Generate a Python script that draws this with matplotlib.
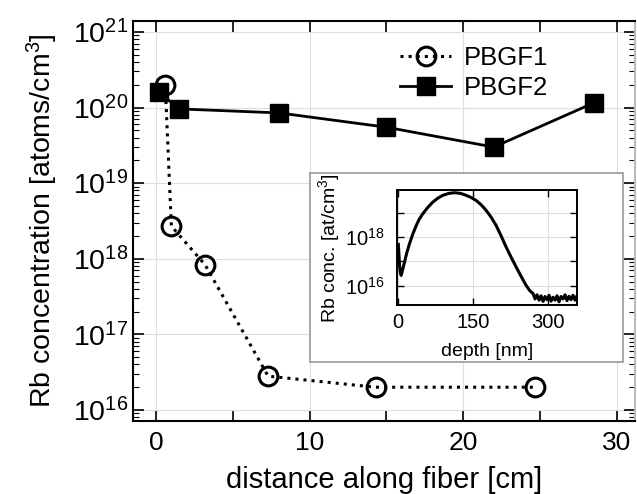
import math
import matplotlib
matplotlib.use("Agg")
import matplotlib.pyplot as plt
from matplotlib.patches import Rectangle
from matplotlib.ticker import LogLocator, NullFormatter, MultipleLocator, FuncFormatter

plt.rcParams['font.family'] = ['Liberation Sans', 'DejaVu Sans']
plt.rcParams['mathtext.fontset'] = 'custom'
plt.rcParams['mathtext.rm'] = 'Liberation Sans'
plt.rcParams['mathtext.it'] = 'Liberation Sans'

# main data: Rb concentration vs distance along fiber
pbgf1_x = [0.6, 1.0, 3.2, 7.3, 14.3, 24.7]
pbgf1_y = [2.0e20, 2.7e18, 8.3e17, 2.8e16, 2.0e16, 2.0e16]
pbgf2_x = [0.2, 1.5, 8.0, 15.0, 22.0, 28.5]
pbgf2_y = [1.6e20, 9.6e19, 8.5e19, 5.5e19, 3.0e19, 1.15e20]

# inset: depth profile (log10 of concentration)
depth = [0, 1, 2.5, 4, 5.8, 8, 12.5, 17, 22.5, 29, 36, 42, 49, 59, 69, 79, 89, 101,
         113, 125, 136, 146, 156, 166, 176, 186, 196, 206, 216, 226, 236, 246, 256,
         263, 270, 274, 278, 282, 286, 290, 294, 298, 302, 306, 310, 314, 318, 322,
         326, 330, 334, 338, 342, 346, 350, 354, 358]
log_conc = [17.70, 17.40, 16.84, 16.55, 16.42, 16.60, 16.97, 17.35, 17.73, 18.12, 18.48,
            18.74, 18.96, 19.22, 19.44, 19.60, 19.72, 19.80, 19.83, 19.80, 19.72, 19.63,
            19.51, 19.33, 19.10, 18.82, 18.48, 18.05, 17.59, 17.17, 16.77, 16.38, 16.01,
            15.80, 15.67, 15.45, 15.62, 15.40, 15.58, 15.35, 15.55, 15.42, 15.60, 15.36,
            15.52, 15.40, 15.58, 15.33, 15.55, 15.45, 15.62, 15.38, 15.56, 15.42, 15.60,
            15.40, 15.58]
inset_conc = [10 ** v for v in log_conc]

fig = plt.figure(figsize=(6.37, 4.94), dpi=100)
W, H = 637.0, 494.0

ax = fig.add_axes([133 / W, 1 - 421 / H, (635 - 133) / W, (421 - 21) / H])
ax.plot(pbgf1_x, pbgf1_y, linestyle=':', color='black', linewidth=2.2,
        marker='o', markersize=13.5, markerfacecolor='none', markeredgewidth=2.2,
        label='PBGF1')
ax.plot(pbgf2_x, pbgf2_y, linestyle='-', color='black', linewidth=2,
        marker='s', markersize=13, markerfacecolor='black', markeredgecolor='black',
        label='PBGF2')
ax.set_yscale('log')
ax.set_xlim(-1.5, 31.2)
ax.set_ylim(10 ** 15.854, 10 ** 21.145)
ax.xaxis.set_major_locator(MultipleLocator(10))
ax.xaxis.set_minor_locator(MultipleLocator(5))
ax.yaxis.set_major_locator(LogLocator(base=10, numticks=10))
ax.yaxis.set_minor_locator(LogLocator(base=10, subs=range(2, 10), numticks=10))
ax.yaxis.set_minor_formatter(NullFormatter())
ax.tick_params(which='both', direction='in', top=True, right=True, labelsize=19)
ax.tick_params(axis='y', which='major', labelsize=20.5)
ax.tick_params(which='major', length=8, width=1.2)
ax.tick_params(which='minor', length=4, width=0.8)
ax.tick_params(axis='x', which='minor', length=8, width=1.2)
ax.tick_params(axis='x', which='major', pad=7)
ax.grid(True, which='major', color='#dddddd', linewidth=0.8)
for s in ax.spines.values():
    s.set_linewidth(1.5)
ax.spines['right'].set_color('#bbbbbb')
ax.set_xlabel('distance along fiber [cm]', fontsize=21, labelpad=8)
ax.set_ylabel('Rb concentration [atoms/cm$^3$]', fontsize=20.5, labelpad=9)
ax.legend(loc='upper left', bbox_to_anchor=(387 / W, 1 - 33 / H),
          bbox_transform=fig.transFigure, frameon=False, fontsize=18.5,
          handlelength=2.0, handletextpad=0.5, labelspacing=0.25, borderpad=0)

# inset frame
fig.patches.append(Rectangle((310 / W, 1 - 362 / H), 313 / W, 189 / H,
                             transform=fig.transFigure, facecolor='white',
                             edgecolor='#999999', linewidth=1.2, zorder=3))

ins = fig.add_axes([397.3 / W, 1 - 305 / H, 179.7 / W, 114.5 / H], zorder=4)
ins.plot(depth, inset_conc, color='black', linewidth=2.2)
ins.set_yscale('log')
ins.set_xlim(-2, 358)
ins.set_ylim(10 ** 15.2, 10 ** 19.92)
ins.set_xticks([0, 150, 300])
ins.yaxis.set_major_locator(LogLocator(base=10, numticks=10))
ins.yaxis.set_major_formatter(FuncFormatter(
    lambda v, p: '$10^{%d}$' % round(math.log10(v)) if round(math.log10(v)) % 2 == 0 else ''))
ins.yaxis.set_minor_formatter(NullFormatter())
ins.yaxis.set_minor_locator(LogLocator(base=10, subs=[], numticks=10))
ins.tick_params(which='both', direction='in', top=True, right=True, labelsize=14.5)
ins.tick_params(which='major', length=5, width=1)
ins.tick_params(axis='y', pad=9)
ins.tick_params(axis='x', pad=6)
ins.grid(True, which='major', color='#dddddd', linewidth=0.8)
for s in ins.spines.values():
    s.set_linewidth(1.4)
ins.set_xlabel('depth [nm]', fontsize=14, labelpad=8)
ins.set_ylabel('Rb conc. [at/cm$^3$]', fontsize=14, labelpad=2)

fig.savefig('out.png', dpi=100)
